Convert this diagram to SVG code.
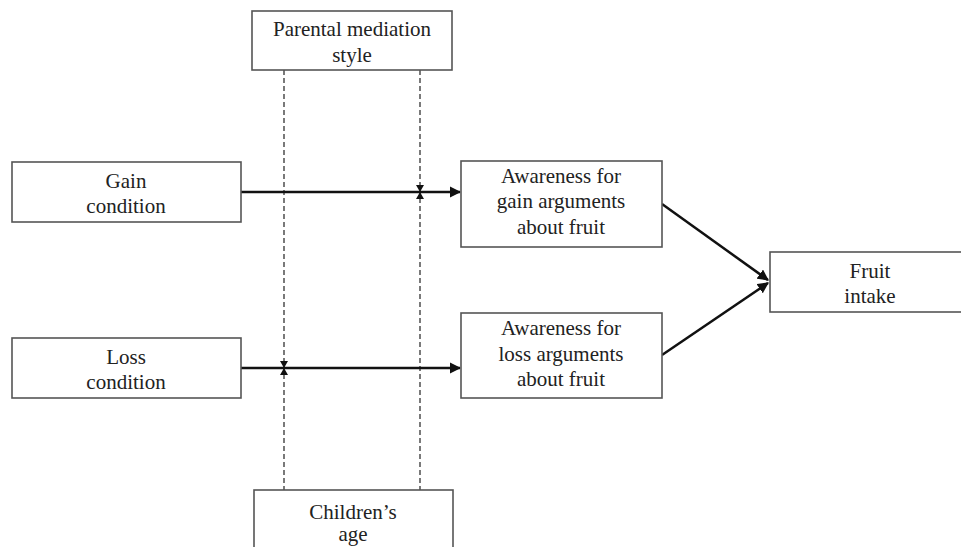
<svg xmlns="http://www.w3.org/2000/svg" width="961" height="547" viewBox="0 0 961 547">
<style>
.box{fill:#fff;stroke:#555;stroke-width:1.6}
.t{font-family:"Liberation Serif",serif;font-size:21px;fill:#222;text-anchor:middle}
.dash{stroke:#333;stroke-width:1.3;stroke-dasharray:5,3;fill:none}
.arr{stroke:#111;stroke-width:2.5;fill:none;marker-end:url(#ah)}
.tip{fill:#111}
</style>
<defs>
<marker id="ah" viewBox="0 0 10 10" refX="9" refY="5" markerWidth="4.5" markerHeight="4.5" orient="auto" markerUnits="strokeWidth">
<path d="M0,0 L10,5 L0,10 z" fill="#111"/>
</marker>
</defs>
<rect width="961" height="547" fill="#fff"/>
<g id="connectors">
<line class="dash" x1="284" y1="70" x2="284" y2="490"/>
<line class="dash" x1="420" y1="70" x2="420" y2="490"/>
<line class="arr" x1="241" y1="192" x2="460" y2="192"/>
<line class="arr" x1="241" y1="368" x2="460" y2="368"/>
<line class="arr" x1="662" y1="204" x2="768" y2="280"/>
<line class="arr" x1="662" y1="355" x2="768" y2="283"/>
<path class="tip" d="M416,185 L424,185 L420,192 z M416,199 L424,199 L420,192 z"/>
<path class="tip" d="M280,361 L288,361 L284,368 z M280,375 L288,375 L284,368 z"/>
</g>
<g id="parental">
<rect class="box" x="252" y="11" width="200" height="59"/>
<text class="t" x="352" y="36">Parental mediation</text>
<text class="t" x="352" y="62">style</text>
</g>
<g id="gain">
<rect class="box" x="12" y="162" width="229" height="60"/>
<text class="t" x="126" y="188">Gain</text>
<text class="t" x="126" y="213">condition</text>
</g>
<g id="loss">
<rect class="box" x="12" y="338" width="229" height="60"/>
<text class="t" x="126" y="364">Loss</text>
<text class="t" x="126" y="389">condition</text>
</g>
<g id="awareGain">
<rect class="box" x="461" y="161" width="201" height="86"/>
<text class="t" x="561" y="183">Awareness for</text>
<text class="t" x="561" y="208">gain arguments</text>
<text class="t" x="561" y="234">about fruit</text>
</g>
<g id="awareLoss">
<rect class="box" x="461" y="313" width="201" height="85"/>
<text class="t" x="561" y="335">Awareness for</text>
<text class="t" x="561" y="361">loss arguments</text>
<text class="t" x="561" y="386">about fruit</text>
</g>
<g id="fruit">
<rect class="box" x="770" y="252" width="210" height="60"/>
<text class="t" x="870" y="278">Fruit</text>
<text class="t" x="870" y="303">intake</text>
</g>
<g id="age">
<rect class="box" x="254" y="490" width="199" height="70"/>
<text class="t" x="353" y="519">Children’s</text>
<text class="t" x="353" y="541">age</text>
</g>
</svg>
